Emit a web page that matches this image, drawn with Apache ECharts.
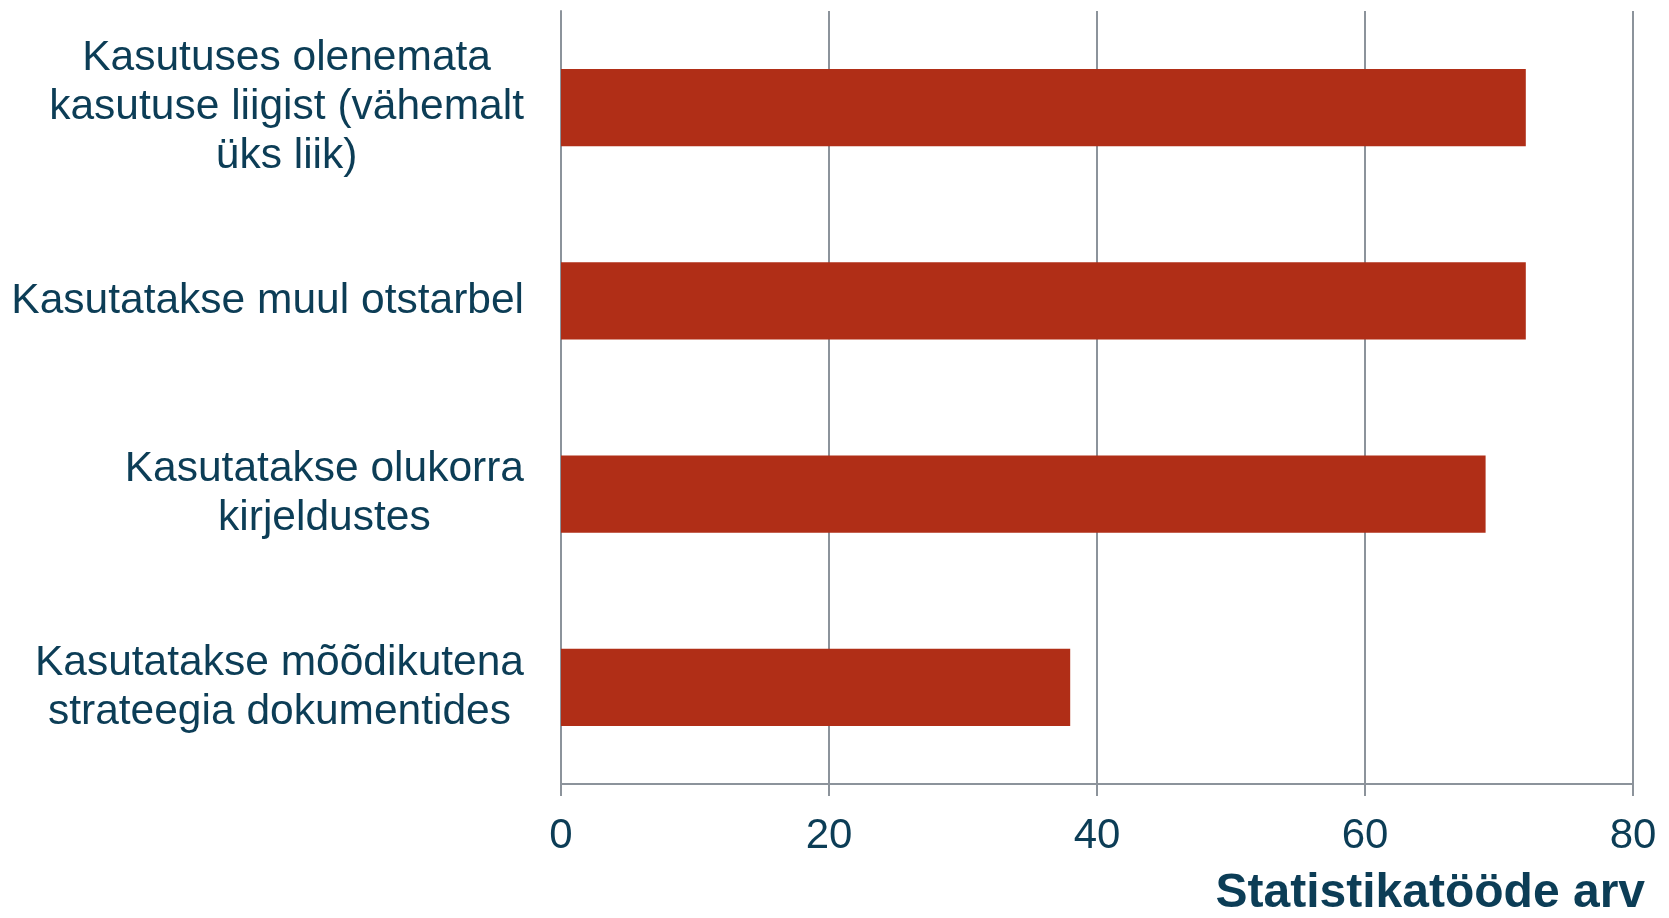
<!DOCTYPE html>
<html>
<head>
<meta charset="utf-8">
<script src="https://cdn.jsdelivr.net/npm/echarts@6/dist/echarts.min.js"></script>
<style>
  html, body { margin: 0; padding: 0; background: #fff; }
  #chart { width: 1669px; height: 918px; }
</style>
</head>
<body>
<div id="chart"></div>
<script>
// andmed
var categories = [
  'Kasutuses olenemata\nkasutuse liigist (vähemalt\nüks liik)',
  'Kasutatakse muul otstarbel',
  'Kasutatakse olukorra\nkirjeldustes',
  'Kasutatakse mõõdikutena\nstrateegia dokumentides'
];
var values = [72, 72, 69, 38];
var xTicks = [0, 20, 40, 60, 80];
var axisTitle = 'Statistikatööde arv';

var textColor = '#0c3d56';
var gridColor = '#8c939b';

var myChart = echarts.init(document.getElementById('chart'));

var option = {
  animation: false,
  grid: {
    left: 561,
    right: 36,
    top: 11,
    bottom: 134,
    outerBoundsMode: 'none'
  },
  xAxis: {
    type: 'value',
    min: xTicks[0],
    max: xTicks[xTicks.length - 1],
    interval: xTicks[1] - xTicks[0],
    axisLine: { show: true, lineStyle: { color: gridColor, width: 2 } },
    axisTick: { show: true, length: 12, lineStyle: { color: gridColor, width: 2 } },
    splitLine: { show: true, lineStyle: { color: gridColor, width: 2 } },
    axisLabel: {
      margin: 31,
      color: textColor,
      fontSize: 42,
      fontFamily: 'Liberation Sans, Arial, sans-serif'
    },
    name: axisTitle,
    nameLocation: 'end',
    nameGap: 12,
    nameTextStyle: {
      color: textColor,
      fontSize: 48,
      fontWeight: 'bold',
      fontFamily: 'Liberation Sans, Arial, sans-serif',
      align: 'right',
      verticalAlign: 'top',
      padding: [86, 0, 0, 0]
    }
  },
  yAxis: {
    type: 'category',
    data: categories,
    inverse: true,
    axisLine: { show: true, lineStyle: { color: gridColor, width: 2 } },
    axisTick: { show: false },
    axisLabel: {
      margin: 37,
      align: 'right',
      // iga rida keskel, plokk paremale
      formatter: function (v) {
        return v.split('\n').map(function (s) { return '{c|' + s + '}'; }).join('\n');
      },
      rich: {
        c: {
          align: 'center',
          color: textColor,
          fontSize: 42.5,
          lineHeight: 49,
          fontFamily: 'Liberation Sans, Arial, sans-serif'
        }
      }
    }
  },
  series: [
    {
      type: 'bar',
      data: values,
      barWidth: '40%',
      itemStyle: { color: '#b02e17' }
    }
  ]
};

myChart.setOption(option);
</script>
</body>
</html>
